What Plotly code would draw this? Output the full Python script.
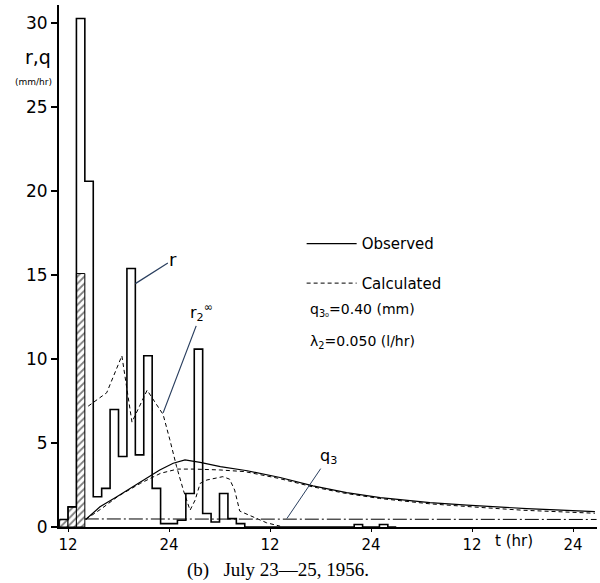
import plotly.graph_objects as go

# ---------------- data ----------------
# observed rainfall r (mm/hr), hourly blocks starting at these hours
rain_start = list(range(11, 51))
rain_obs = [0.45, 1.2, 30.3, 20.6, 1.8, 2.3, 7.0, 4.2, 15.4, 4.3, 10.2, 2.3,
            0.2, 0.2, 0.4, 2.0, 10.6, 0.8, 0.3, 2.0, 0.5, 0.2,
            0, 0, 0, 0, 0, 0, 0, 0, 0, 0, 0, 0, 0, 0.15, 0, 0, 0.15, 0]
rain_end = 51

# hatched (loss) portion
hatch_center = [11.5, 12.5, 13.5]
hatch_vals = [0.45, 1.2, 15.1]

# r2 infinity (calculated, dashed)
r2_t = [14.4, 16.6, 18.4, 19.6, 21.4, 23.3, 24.1, 24.9, 25.7, 26.5, 27.1, 27.7,
        28.5, 29.7, 30.4, 31.2, 31.8, 32.4, 33.6, 35.6, 37.2]
r2_v = [7.2, 8.0, 10.2, 6.25, 8.15, 6.7, 5.2, 3.6, 2.2, 1.0, 1.6, 2.6,
        2.8, 2.9, 3.0, 2.85, 2.2, 0.95, 0.7, 0.25, 0.05]

# observed discharge q
qobs_t = [14.1, 15.8, 17.8, 20.6, 22.9, 24.5, 25.9, 27.7, 30.1, 33.3, 37.2,
          41.1, 45.1, 49.1, 55.0, 59.4, 66.5, 74.6]
qobs_v = [0.45, 1.2, 1.8, 2.7, 3.4, 3.8, 4.0, 3.85, 3.6, 3.35, 2.95,
          2.45, 2.05, 1.75, 1.45, 1.3, 1.1, 0.92]

# calculated discharge q
qcal_t = [14.1, 16.0, 18.0, 20.6, 23.0, 25.0, 27.0, 30.0, 33.0, 37.0, 41.0,
          45.0, 49.0, 55.0, 60.0, 66.0, 74.6]
qcal_v = [0.45, 1.1, 1.85, 2.6, 3.2, 3.45, 3.45, 3.4, 3.3, 2.9, 2.4,
          2.0, 1.7, 1.38, 1.2, 1.0, 0.82]

# q3 (groundwater component)
q3_t = [14.0, 30.0, 50.0, 74.8]
q3_v = [0.48, 0.48, 0.47, 0.45]

tick_vals = [12, 24, 36, 48, 60, 72]
tick_text = ["12", "24", "12", "24", "12", "24"]
y_ticks = [0, 5, 10, 15, 20, 25, 30]

# ---------------- figure ----------------
fig = go.Figure()

fig.add_trace(go.Bar(
    x=hatch_center, y=hatch_vals, width=1.0,
    marker=dict(color="white", line=dict(color="black", width=1),
                pattern=dict(shape="/", fgcolor="black", bgcolor="white",
                             size=5, solidity=0.35)),
    showlegend=False, hoverinfo="skip"))

fig.add_trace(go.Scatter(
    x=rain_start + [rain_end], y=rain_obs + [0], mode="lines",
    line=dict(color="black", width=1.6, shape="hv"),
    showlegend=False, hoverinfo="skip"))

fig.add_trace(go.Scatter(
    x=r2_t, y=r2_v, mode="lines",
    line=dict(color="black", width=1, dash="4px,3px"),
    showlegend=False))

fig.add_trace(go.Scatter(
    x=q3_t, y=q3_v, mode="lines",
    line=dict(color="black", width=1, dash="14px,3px,2px,3px"),
    showlegend=False))

fig.add_trace(go.Scatter(
    x=qobs_t, y=qobs_v, mode="lines", name="Observed",
    legendgroup="a",
    line=dict(color="black", width=1.2)))

fig.add_trace(go.Scatter(
    x=qcal_t, y=qcal_v, mode="lines", name="Calculated",
    legendgroup="b",
    line=dict(color="black", width=1, dash="4px,3px")))

font_sans = "DejaVu Sans"

fig.update_layout(
    width=600, height=583,
    margin=dict(l=59, r=3, t=5, b=56),
    plot_bgcolor="white", paper_bgcolor="white",
    barmode="overlay",
    font=dict(family=font_sans, color="black"),
    legend=dict(x=0.451, y=0.574, xanchor="left", yanchor="top",
                bgcolor="rgba(0,0,0,0)", font=dict(size=15, family=font_sans),
                traceorder="grouped", tracegroupgap=17, itemwidth=50),
    xaxis=dict(range=[10.93, 74.85], tickvals=tick_vals, ticktext=tick_text,
               showline=True, linewidth=2, linecolor="black",
               ticks="outside", ticklen=3, tickwidth=1.2, tickcolor="black",
               showgrid=False, zeroline=False, tickfont=dict(size=15)),
    yaxis=dict(range=[0, 31.1], tickvals=y_ticks,
               showline=True, linewidth=2, linecolor="black",
               ticks="outside", ticklen=6, tickwidth=1.5, tickcolor="black",
               showgrid=False, zeroline=False, tickfont=dict(size=17)),
)

ann = [
    dict(x=20.0, y=14.5, xref="x", yref="y", text="r", showarrow=True,
         arrowhead=0, arrowwidth=1.2, ax=38, ay=-24, font=dict(size=18)),
    dict(x=23.3, y=6.8, xref="x", yref="y", text="r<sub>2</sub><sup>∞</sup>",
         showarrow=True, arrowhead=0, arrowwidth=1.2, ax=38, ay=-100,
         font=dict(size=16)),
    dict(x=38.0, y=0.5, xref="x", yref="y", text="q<sub>3</sub>",
         showarrow=True, arrowhead=0, arrowwidth=1, ax=42, ay=-62,
         font=dict(size=16)),
    dict(x=-0.011, y=0.900, xref="paper", yref="paper", text="r,q",
         showarrow=False, font=dict(size=19), xanchor="right", yanchor="middle"),
    dict(x=-0.009, y=0.8525, xref="paper", yref="paper", text="(mm/hr)",
         showarrow=False, font=dict(size=9), xanchor="right", yanchor="middle"),
    dict(x=0.463, y=0.416, xref="paper", yref="paper",
         text="q<sub>3₀</sub>=0.40 (mm)", showarrow=False, xanchor="left",
         yanchor="middle", font=dict(size=14)),
    dict(x=0.463, y=0.354, xref="paper", yref="paper",
         text="λ<sub>2</sub>=0.050 (l/hr)", showarrow=False, xanchor="left",
         yanchor="middle", font=dict(size=14)),
    dict(x=0.807, y=-0.027, xref="paper", yref="paper", text="t (hr)",
         showarrow=False, xanchor="left", yanchor="middle", font=dict(size=15)),
    dict(x=0.407, y=-0.082, xref="paper", yref="paper",
         text="(b)   July 23—25, 1956.", showarrow=False, xanchor="center",
         yanchor="middle", font=dict(size=19, family="Liberation Serif")),
]
fig.update_layout(annotations=ann)

fig.write_html("out.html")
